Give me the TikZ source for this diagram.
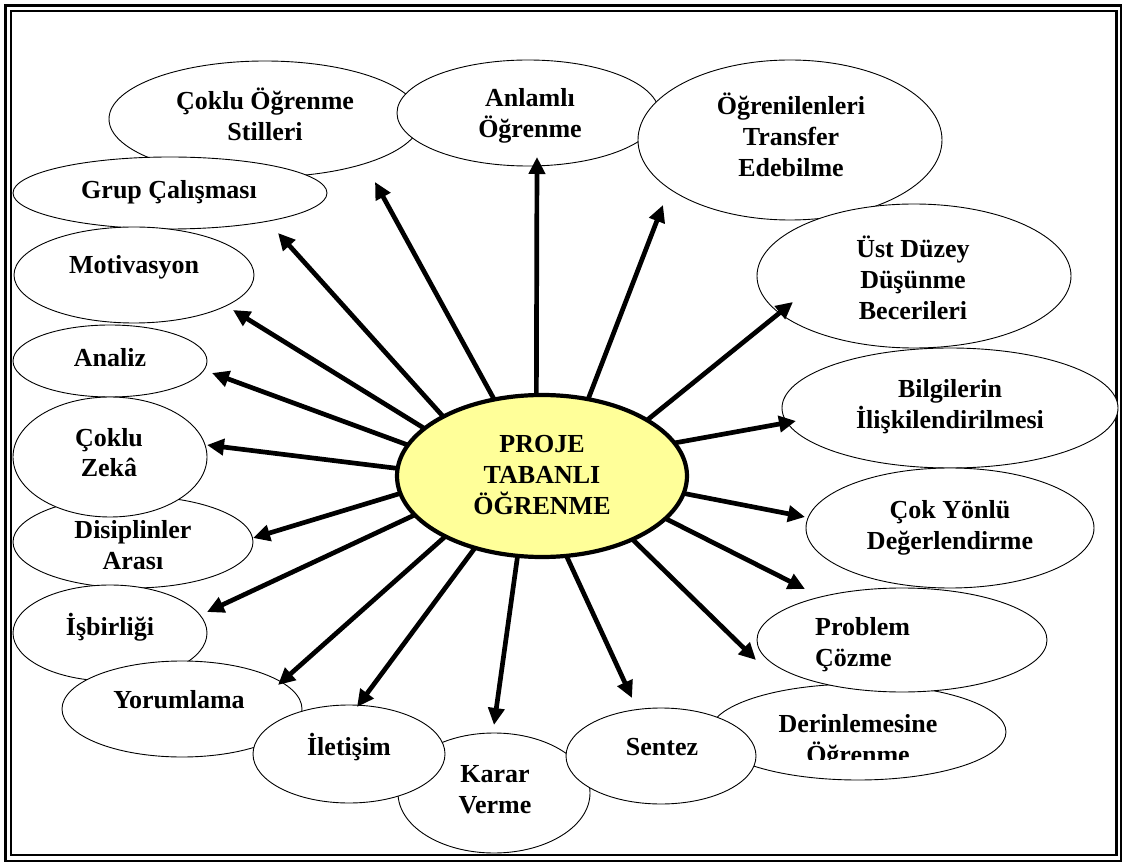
\documentclass[tikz,border=0pt]{standalone}
\usepackage{fontspec}
\setmainfont{Liberation Serif}
\usetikzlibrary{shapes.geometric,arrows.meta}
\definecolor{pyellow}{RGB}{255,255,153}
\newcommand{\ls}{\rule[-8pt]{0pt}{31pt}}
\begin{document}
\begin{tikzpicture}[x=1pt,y=-1pt,
  oval/.style={ellipse,draw,fill=white,line width=0.9pt,inner sep=0pt,outer sep=0pt},
  lbl/.style={font=\fontsize{26}{31}\selectfont\bfseries,align=center,inner sep=0pt},
  arr/.style={line width=4.7pt,-{Triangle[length=17pt,width=16pt]}}
]
\useasboundingbox (0,0) rectangle (1125,866);
% frame
\draw[line width=2.5pt] (5.5,5.5) rectangle (1121,861);
\draw[line width=2.2pt] (11.2,11) rectangle (1116.5,855);

% satellites
\node[oval,minimum width=312pt,minimum height=116pt] (e1) at (265,119) {};
\node[lbl] (l1) at (265,118) {\ls Çoklu Öğrenme\\\ls Stilleri};
\node[oval,minimum width=314pt,minimum height=72pt] (e18) at (170,193) {};
\node[lbl] (l18) at (169,191.5) {\ls Grup Çalışması};
\node[oval,minimum width=262pt,minimum height=106pt] (e2) at (528,113) {};
\node[lbl] (l2) at (530,115) {\ls Anlamlı\\\ls Öğrenme};
\node[oval,minimum width=304pt,minimum height=160pt] (e3) at (790,140) {};
\node[lbl] (l3) at (791,138.5) {\ls Öğrenilenleri\\\ls Transfer\\\ls Edebilme};
\node[oval,minimum width=314pt,minimum height=144pt] (e4) at (914,276) {};
\node[lbl] (l4) at (913,281.5) {\ls Üst Düzey\\\ls Düşünme\\\ls Becerileri};
\node[oval,minimum width=336pt,minimum height=120pt] (e5) at (950,408) {};
\node[lbl] (l5) at (950,406) {\ls Bilgilerin\\\ls İlişkilendirilmesi};
\node[oval,minimum width=288pt,minimum height=120pt] (e6) at (950,528) {};
\node[lbl] (l6) at (950,526) {\ls Çok Yönlü\\\ls Değerlendirme};
\node[oval,minimum width=296pt,minimum height=96pt] (e8) at (858,732) {};
\begin{scope}
  \clip (700,690) rectangle (1010,759);
  \node[lbl] (l8) at (858,740) {\ls Derinlemesine\\\ls Öğrenme};
\end{scope}
\node[oval,minimum width=290pt,minimum height=104pt] (e7) at (902,640) {};
\node[lbl,align=left,anchor=west] (l7) at (815,643) {\ls Problem\\\ls Çözme};
\node[oval,minimum width=192pt,minimum height=120pt] (e10) at (494,793) {};
\node[lbl] (l10) at (495,790) {\ls Karar\\\ls Verme};
\node[oval,minimum width=190pt,minimum height=96pt] (e9) at (661,756) {};
\node[lbl] (l9) at (662,747.5) {\ls Sentez};
\node[oval,minimum width=240pt,minimum height=96pt] (e17) at (134,275) {};
\node[lbl] (l17) at (134,266.5) {\ls Motivasyon};
\node[oval,minimum width=194pt,minimum height=72pt] (e16) at (110,361) {};
\node[lbl] (l16) at (110,359.5) {\ls Analiz};
\node[oval,minimum width=240pt,minimum height=92pt] (e14) at (133,542) {};
\node[lbl] (l14) at (133,546) {\ls Disiplinler\\\ls Arası};
\node[oval,minimum width=194pt,minimum height=120pt] (e15) at (110,457) {};
\node[lbl] (l15) at (109,454) {\ls Çoklu\\\ls Zekâ};
\node[oval,minimum width=194pt,minimum height=96pt] (e13) at (110,633) {};
\node[lbl] (l13) at (110,627.5) {\ls İşbirliği};
\node[oval,minimum width=240pt,minimum height=96pt] (e12) at (182,709) {};
\node[lbl] (l12) at (179,700.5) {\ls Yorumlama};
\node[oval,minimum width=192pt,minimum height=98pt] (e11) at (349,754) {};
\node[lbl] (l11) at (349,747.5) {\ls İletişim};

% centre
\node[ellipse,draw,fill=pyellow,line width=4.2pt,inner sep=0pt,outer sep=0pt,
      minimum width=290pt,minimum height=162pt,
      font=\fontsize{26}{31}\selectfont\bfseries,align=center] (c) at (542,476)
      {\ls PROJE\\\ls TABANLI\\\ls ÖĞRENME};

% arrow tips
\coordinate (t1) at (375,182);
\coordinate (t2) at (537,157);
\coordinate (t3) at (663,205);
\coordinate (t4) at (793,302);
\coordinate (t5) at (796,421);
\coordinate (t6) at (805,517);
\coordinate (t7) at (805,589);
\coordinate (t8) at (756,660);
\coordinate (t9) at (632,698);
\coordinate (t10) at (494,725);
\coordinate (t11) at (357,707);
\coordinate (t12) at (278,685);
\coordinate (t13) at (207,612);
\coordinate (t14) at (253,538);
\coordinate (t15) at (207,445);
\coordinate (t16) at (212,373);
\coordinate (t17) at (233,310);
\coordinate (t18) at (278,233);

\draw[arr] (c.122) -- (t1);
\draw[arr] (c.94) -- (t2);
\draw[arr] (c.59) -- (t3);
\draw[arr] (c.28) -- (t4);
\draw[arr] (c.14) -- (t5);
\draw[arr] (c.353) -- (t6);
\draw[arr] (c.341) -- (t7);
\draw[arr] (c.325) -- (t8);
\draw[arr] (c.287) -- (t9);
\draw[arr] (c.253) -- (t10);
\draw[arr] (c.227) -- (t11);
\draw[arr] (c.212) -- (t12);
\draw[arr] (c.197) -- (t13);
\draw[arr] (c.187) -- (t14);
\draw[arr] (c.177) -- (t15);
\draw[arr] (c.167) -- (t16);
\draw[arr] (c.158) -- (t17);
\draw[arr] (c.149) -- (t18);
\end{tikzpicture}
\end{document}
